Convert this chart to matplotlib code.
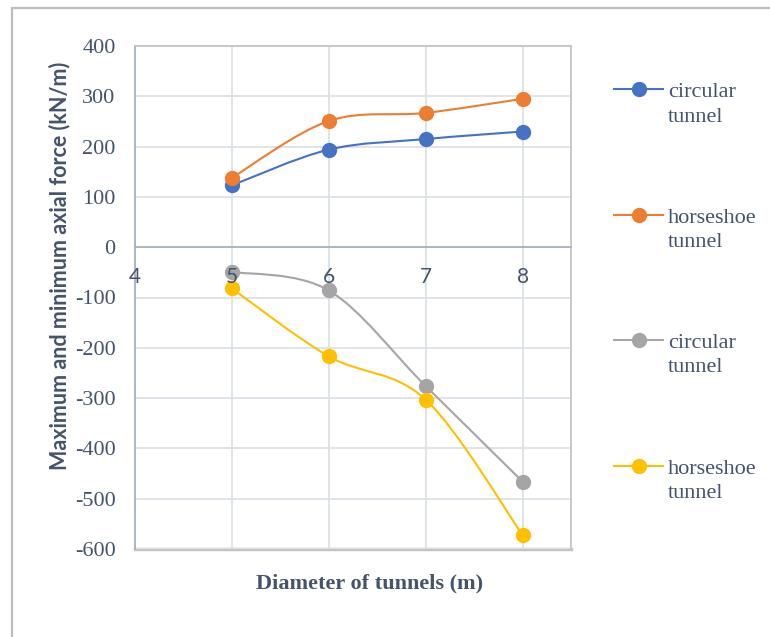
import numpy as np
import matplotlib.pyplot as plt
from matplotlib.path import Path
from matplotlib.patches import PathPatch, Rectangle
from matplotlib.lines import Line2D

plt.rcParams['axes.unicode_minus'] = False

# tunnel diameter (m) and axial force (kN/m)
diameter = [5, 6, 7, 8]
max_circular = [123, 194, 215, 230]
max_horseshoe = [138, 251, 267, 295]
min_circular = [-49, -86, -276, -466]
min_horseshoe = [-82, -217, -303, -572]

series = [max_circular, max_horseshoe, min_circular, min_horseshoe]
labels = ['circular\ntunnel', 'horseshoe\ntunnel', 'circular\ntunnel', 'horseshoe\ntunnel']
colors = ['#4472C4', '#ED7D31', '#A5A5A5', '#FFC000']

x_ticks = [4, 5, 6, 7, 8]
y_ticks = list(range(-600, 401, 100))

text_col = '#44546A'
serif = 'Liberation Serif'
sans = 'Lato'


def smooth_path(x, y):
    # cubic bezier through the points, catmull-rom style tangents
    pts = np.column_stack([x, y]).astype(float)
    ext = np.vstack([pts[0], pts, pts[-1]])
    verts = [pts[0]]
    codes = [Path.MOVETO]
    for i in range(len(pts) - 1):
        p0, p1, p2, p3 = ext[i], ext[i + 1], ext[i + 2], ext[i + 3]
        verts += [p1 + (p2 - p0) / 6, p2 - (p3 - p1) / 6, p2]
        codes += [Path.CURVE4] * 3
    return Path(verts, codes)


W, H = 770, 637
fig = plt.figure(figsize=(W / 100, H / 100), dpi=100)

# outer chart frame
fig.add_artist(Rectangle((11.5 / W, -0.5), 2, 1.5 - 7.5 / H, transform=fig.transFigure,
                         fill=False, edgecolor='#BDBDBD', lw=1.6))

ax = fig.add_axes([135 / W, 1 - 549 / H, 436 / W, 503 / H])
ax.set_xlim(4, 8.5)
ax.set_ylim(-600, 400)
ax.set_xticks(x_ticks)
ax.set_yticks(y_ticks)
ax.grid(True, color='#DCE1E8', lw=1.3)
ax.set_axisbelow(True)

for s in ['top', 'right']:
    ax.spines[s].set_color('#C4C4C4')
    ax.spines[s].set_linewidth(1.3)
ax.spines['left'].set_color('#A9B1BF')
ax.spines['left'].set_linewidth(1.3)
ax.spines['bottom'].set_position(('data', 0))
ax.spines['bottom'].set_color('#A9B1BF')
ax.spines['bottom'].set_linewidth(1.3)
ax.axhline(-600, color='#C4C4C4', lw=2.5, clip_on=False, zorder=0.5)

ax.tick_params(axis='both', length=0)
ax.tick_params(axis='y', pad=14, labelsize=16, labelcolor=text_col)
ax.tick_params(axis='x', labelbottom=False)
for t in ax.get_yticklabels():
    t.set_fontfamily(serif)

for vals, c in zip(series, colors):
    ax.add_patch(PathPatch(smooth_path(diameter, vals), fill=False, edgecolor=c, lw=1.5, zorder=3))
    ax.plot(diameter, vals, ls='none', marker='o', ms=10, color=c, zorder=4)

# x tick labels sit just under the zero line, on top of the markers
for xv in x_ticks:
    ax.annotate(str(xv), (xv, 0), xytext=(0, -21.5), textcoords='offset points',
                ha='center', va='center', fontsize=15, family=sans, color=text_col,
                annotation_clip=False, zorder=6)

fig.text(60 / W, 1 - 266 / H, 'Maximum and minimum axial force (kN/m)', rotation=90,
         ha='center', va='center', fontsize=15.5, fontweight='bold', family=sans, color=text_col)
fig.text(370 / W, 1 - 583 / H, 'Diameter of tunnels (m)', ha='center', va='center',
         fontsize=16, fontweight='bold', family=serif, color=text_col)

# legend on the right
for i, (lab, c) in enumerate(zip(labels, colors)):
    yy = 1 - (89 + 125.5 * i) / H
    fig.add_artist(Line2D([614 / W, 638.5 / W, 663 / W], [yy] * 3, transform=fig.transFigure,
                          color=c, lw=1.5, marker='o', ms=10, markevery=[1]))
    fig.text(668 / W, 1 - (121.5 + 125.5 * i) / H, lab, ha='left', va='baseline',
             fontsize=16, family=serif, color=text_col, linespacing=1.37)

fig.savefig('out.png', dpi=100)
